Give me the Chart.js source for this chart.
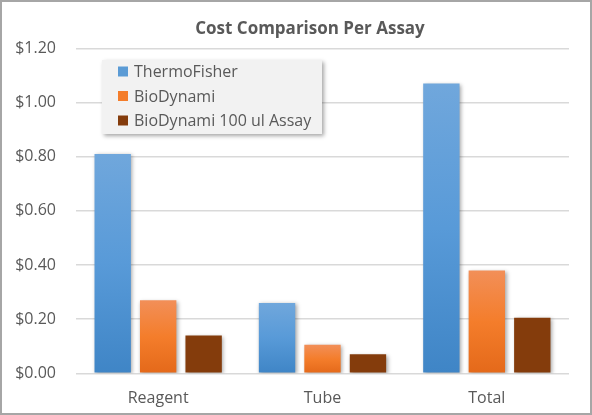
<!DOCTYPE html>
<html>
<head>
<meta charset="utf-8">
<script src="https://cdn.jsdelivr.net/npm/chart.js@4"></script>
<style>
  html, body { margin: 0; padding: 0; background: #fff; }
  #wrap { width: 592px; height: 415px; box-sizing: border-box; border: 2px solid #a6a6a6; }
  canvas { display: block; }
</style>
</head>
<body>
<div id="wrap"><canvas id="myChart" width="588" height="411"></canvas></div>
<script>
const chartTitle = 'Cost Comparison Per Assay';
const categories = ['Reagent', 'Tube', 'Total'];
const thermoFisher = [0.81, 0.26, 1.07];
const bioDynami = [0.27, 0.105, 0.38];
const bioDynami100 = [0.14, 0.07, 0.205];
const seriesNames = ['ThermoFisher', 'BioDynami', 'BioDynami 100 ul Assay'];
const yTicks = [0, 0.2, 0.4, 0.6, 0.8, 1.0, 1.2];

const FONT = "'Open Sans', sans-serif";
const TEXT = '#595959';

// vertical gradient per bar, light at the top
function barGradient(stops, solid) {
  return function (c) {
    const chart = c.chart;
    const y = chart.scales.y;
    if (!chart.chartArea || !y || c.parsed == null) return solid;
    const top = y.getPixelForValue(c.parsed.y);
    const base = y.getPixelForValue(0);
    if (!isFinite(top) || !isFinite(base) || top === base) return solid;
    const g = chart.ctx.createLinearGradient(0, top, 0, base);
    stops.forEach(s => g.addColorStop(s[0], s[1]));
    return g;
  };
}

const swatches = ['#5b9bd5', '#f47d2b', '#843c0c'];

const shadowPlugin = {
  id: 'barShadow',
  beforeDatasetDraw(chart) {
    const ctx = chart.ctx;
    ctx.save();
    ctx.shadowColor = 'rgba(0,0,0,0.35)';
    ctx.shadowBlur = 4;
    ctx.shadowOffsetX = 1.5;
    ctx.shadowOffsetY = 1.5;
  },
  afterDatasetDraw(chart) {
    chart.ctx.restore();
  }
};

// title + legend box inside the plot, top left
const boxLegend = {
  id: 'boxLegend',
  afterDraw(chart) {
    const ctx = chart.ctx;
    ctx.save();
    ctx.font = 'bold 17px ' + FONT;
    ctx.fillStyle = TEXT;
    ctx.textAlign = 'center';
    ctx.textBaseline = 'middle';
    ctx.fillText(chartTitle, 308, 27);
    ctx.restore();

    const x = 100, y = 58, w = 220, h = 74;
    ctx.save();
    ctx.shadowColor = 'rgba(0,0,0,0.35)';
    ctx.shadowBlur = 4;
    ctx.shadowOffsetX = 2;
    ctx.shadowOffsetY = 2;
    ctx.fillStyle = '#f2f2f2';
    ctx.fillRect(x, y, w, h);
    ctx.restore();
    ctx.save();
    ctx.font = '16px ' + FONT;
    ctx.textBaseline = 'middle';
    const rows = [69.5, 94, 118.5];
    chart.data.datasets.forEach((ds, i) => {
      ctx.fillStyle = swatches[i];
      ctx.fillRect(116, rows[i] - 5, 10, 10);
      ctx.fillStyle = TEXT;
      ctx.fillText(ds.label, 132, rows[i] + 1);
    });
    ctx.restore();
  }
};

const ctx = document.getElementById('myChart');
new Chart(ctx, {
  type: 'bar',
  data: {
    labels: categories,
    datasets: [
      {
        label: seriesNames[0],
        data: thermoFisher,
        backgroundColor: barGradient([[0, '#70a7dc'], [0.5, '#589ad8'], [1, '#3f85c6']], '#5b9bd5')
      },
      {
        label: seriesNames[1],
        data: bioDynami,
        backgroundColor: barGradient([[0, '#f28f58'], [0.5, '#f47d2b'], [1, '#e4691a']], '#f47d2b')
      },
      {
        label: seriesNames[2],
        data: bioDynami100,
        backgroundColor: '#843c0c'
      }
    ]
  },
  options: {
    responsive: false,
    animation: false,
    devicePixelRatio: 1,
    categoryPercentage: 0.83,
    barPercentage: 0.8,
    layout: {
      padding: { left: 0, right: 21, top: 46.4, bottom: 0 }
    },
    plugins: {
      legend: { display: false },
      tooltip: { enabled: false },
      title: { display: false }
    },
    scales: {
      y: {
        min: 0,
        max: 1.2,
        afterFit(scale) { scale.width = 74; },
        afterBuildTicks(scale) { scale.ticks = yTicks.map(v => ({ value: v })); },
        border: { display: false },
        grid: { color: '#d9d9d9', lineWidth: 1.5, drawTicks: false },
        ticks: {
          padding: 20,
          color: TEXT,
          font: { family: FONT, size: 16 },
          callback: v => '$' + Number(v).toFixed(2)
        }
      },
      x: {
        afterFit(scale) { scale.height = 39.7; },
        border: { display: false },
        grid: { display: false, drawTicks: false },
        ticks: {
          padding: 16,
          color: TEXT,
          font: { family: FONT, size: 16 }
        }
      }
    }
  },
  plugins: [shadowPlugin, boxLegend]
});
</script>
</body>
</html>
